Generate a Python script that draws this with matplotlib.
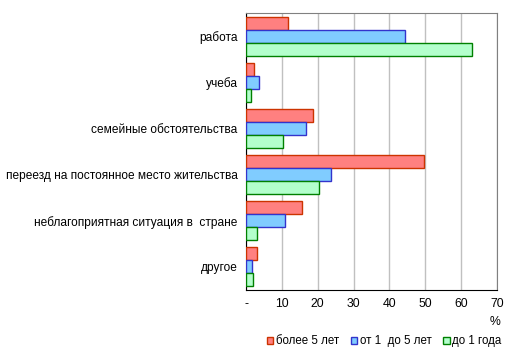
import numpy as np
import matplotlib.pyplot as plt

plt.rcParams['font.family'] = ['Liberation Sans', 'DejaVu Sans']

categories = ['работа', 'учеба', 'семейные обстоятельства',
              'переезд на постоянное место жительства',
              'неблагоприятная ситуация в  стране', 'другое']
series_names = ['более 5 лет', 'от 1  до 5 лет', 'до 1 года']
more_5 = [11.6, 2.3, 18.8, 49.7, 15.7, 3.2]
from_1_to_5 = [44.2, 3.5, 16.8, 23.8, 11.0, 1.8]
under_1 = [63.1, 1.5, 10.4, 20.4, 3.2, 2.0]
xticks = [0, 10, 20, 30, 40, 50, 60, 70]
xticklabels = ['-', '10', '20', '30', '40', '50', '60', '70']

fills = ['#FF8080', '#80CCFF', '#B3FFCC']
edges = ['#CC3300', '#3333CC', '#008000']

fig = plt.figure(figsize=(5.15, 3.55), dpi=100)
ax = fig.add_axes([0.4777, 0.183, 0.4874, 0.78])

n = len(categories)
y = np.arange(n)
h = 1 / 3.55
for i, vals in enumerate([more_5, from_1_to_5, under_1]):
    ax.barh(y + (i - 1) * h, vals, height=h, color=fills[i], edgecolor=edges[i],
            linewidth=1.0, label=series_names[i], zorder=3)

ax.set_ylim(n - 0.5, -0.5)
ax.set_xlim(0, 70)
ax.set_yticks(y)
ax.set_yticklabels(categories, fontsize=8.6)
ax.set_xticks(xticks)
ax.set_xticklabels(xticklabels, fontsize=8.8)
ax.tick_params(axis='both', length=0)
ax.tick_params(axis='x', pad=6)
ax.tick_params(axis='y', pad=6)
ax.grid(axis='x', color='#C0C0C0', linewidth=1, zorder=0)
for s in ['top', 'right']:
    ax.spines[s].set_color('#808080')
ax.spines['left'].set_color('black')
ax.spines['bottom'].set_color('black')

fig.text(0.961, 0.093, '%', fontsize=8.8, ha='center', va='center')
ax.legend(loc='center', bbox_to_anchor=(0.55, -0.185), ncol=3, fontsize=8.3,
          frameon=False, handlelength=0.6, handleheight=0.6, handletextpad=0.2,
          columnspacing=1.0)

fig.savefig('out.png', dpi=100)
